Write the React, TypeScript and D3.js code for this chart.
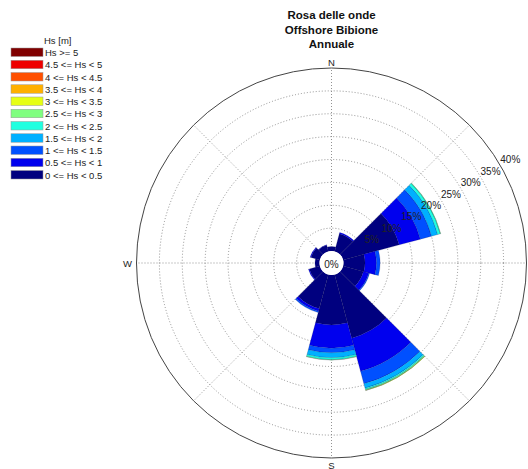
import React from "react";
import * as d3 from "d3";

// ---- data ----
const directions = [0, 30, 60, 90, 120, 150, 180, 210, 240, 270, 300, 330];
const classLabels = [
  "0 <= Hs < 0.5",
  "0.5 <= Hs < 1",
  "1 <= Hs < 1.5",
  "1.5 <= Hs < 2",
  "2 <= Hs < 2.5",
  "2.5 <= Hs < 3",
  "3 <= Hs < 3.5",
  "3.5 <= Hs < 4",
  "4 <= Hs < 4.5",
  "4.5 <= Hs < 5",
  "Hs >= 5",
];
const classColors = [
  "#00007f",
  "#0000ee",
  "#0050ff",
  "#00b0ff",
  "#20ffe0",
  "#80ff80",
  "#e6ff14",
  "#ffb000",
  "#ff5000",
  "#ee0000",
  "#800000",
];
// frequency (%) per direction for each Hs class
const hs0_05 = [1.0, 4.0, 12.7, 4.7, 4.6, 14.4, 10.9, 7.7, 2.4, 1.0, 2.0, 1.4];
const hs05_1 = [0, 0.3, 4.8, 2.5, 1.2, 7.5, 5.1, 0.6, 0.2, 0, 0.2, 0.1];
const hs1_15 = [0, 0, 2.5, 0.8, 0.2, 2.8, 1.0, 0.3, 0, 0, 0, 0];
const hs15_2 = [0, 0, 1.4, 0, 0, 1.0, 1.1, 0, 0, 0, 0, 0];
const hs2_25 = [0, 0, 0.6, 0, 0, 0.3, 0.4, 0, 0, 0, 0, 0];
const hs25_3 = [0, 0, 0.1, 0, 0, 0.2, 0.1, 0, 0, 0, 0, 0];
const hs3_35 = [0, 0, 0, 0, 0, 0.05, 0, 0, 0, 0, 0, 0];
const hs35_4 = [0, 0, 0, 0, 0, 0, 0, 0, 0, 0, 0, 0];
const hs4_45 = [0, 0, 0, 0, 0, 0, 0, 0, 0, 0, 0, 0];
const hs45_5 = [0, 0, 0, 0, 0, 0, 0, 0, 0, 0, 0, 0];
const hs5 = [0, 0, 0, 0, 0, 0, 0, 0, 0, 0, 0, 0];
const series = [hs0_05, hs05_1, hs1_15, hs15_2, hs2_25, hs25_3, hs3_35, hs35_4, hs4_45, hs45_5, hs5];
const ringTicks = [5, 10, 15, 20, 25, 30, 35, 40];
const titleLines = ["Rosa delle onde", "Offshore Bibione", "Annuale"];

const W = 528;
const H = 469;
const cx = 331.5;
const cy = 263;
const sectorWidth = 30;

export default function App() {
  const r = d3.scaleLinear().domain([0, 40]).range([12, 195]);
  const toRad = (deg: number) => (deg * Math.PI) / 180;
  const arc = d3.arc<any>();

  const segments: { path: string; color: string }[] = [];
  directions.forEach((dir, i) => {
    let cum = 0;
    series.forEach((s, k) => {
      const v = s[i];
      if (v <= 0) return;
      const p = arc({
        innerRadius: r(cum),
        outerRadius: r(cum + v),
        startAngle: toRad(dir - sectorWidth / 2),
        endAngle: toRad(dir + sectorWidth / 2),
      } as any) as string;
      segments.push({ path: p, color: classColors[k] });
      cum += v;
    });
  });

  const labelAngle = toRad(60);
  const font = "Liberation Sans, Arial, sans-serif";

  return (
    <svg
      width={W}
      height={H}
      style={{ position: "absolute", left: 0, top: 0, background: "#fff" }}
      fontFamily={font}
    >
      {/* title */}
      {titleLines.map((t, i) => (
        <text
          key={t}
          x={cx}
          y={15 + i * 14.5}
          textAnchor="middle"
          dominantBaseline="central"
          fontWeight="bold"
          fontSize={11.5}
          fill="#111"
        >
          {t}
        </text>
      ))}

      {/* legend */}
      <text x={44} y={40} fontSize={9.5} fill="#222" dominantBaseline="central">
        Hs [m]
      </text>
      {classLabels
        .map((lab, k) => ({ lab, k }))
        .reverse()
        .map(({ lab, k }, j) => (
          <g key={lab}>
            <rect
              x={11}
              y={48 + j * 12.25}
              width={32}
              height={8.5}
              fill={classColors[k]}
              stroke="#999"
              strokeWidth={0.5}
            />
            <text x={45} y={52.5 + j * 12.25} fontSize={9.5} fill="#222" dominantBaseline="central">
              {lab}
            </text>
          </g>
        ))}

      {/* grid */}
      <g transform={`translate(${cx},${cy})`}>
        {ringTicks.slice(0, -1).map((t) => (
          <circle key={t} r={r(t)} fill="none" stroke="#777" strokeWidth={0.8} strokeDasharray="1,2" />
        ))}
        {d3.range(0, 360, 45).map((a) => (
          <line
            key={a}
            x1={r(0) * Math.sin(toRad(a))}
            y1={-r(0) * Math.cos(toRad(a))}
            x2={r(40) * Math.sin(toRad(a))}
            y2={-r(40) * Math.cos(toRad(a))}
            stroke="#777"
            strokeWidth={0.8}
            strokeDasharray="1,2"
          />
        ))}
        <circle r={r(40)} fill="none" stroke="#444" strokeWidth={1} />

        {/* petals */}
        {segments.map((s, i) => (
          <path key={i} d={s.path} fill={s.color} stroke="#000040" strokeOpacity={0.35} strokeWidth={0.5} />
        ))}

        {/* hole */}
        <circle r={r(0)} fill="#fff" />

        {/* ring labels */}
        <text x={0} y={1} textAnchor="middle" dominantBaseline="central" fontSize={10} fill="#222">
          0%
        </text>
        {ringTicks.map((t) => (
          <text
            key={t}
            x={(r(t) + 11.5) * Math.sin(labelAngle)}
            y={-(r(t) + 11.5) * Math.cos(labelAngle)}
            textAnchor="middle"
            dominantBaseline="central"
            fontSize={10}
            fill="#222"
          >
            {t}%
          </text>
        ))}

        {/* cardinal labels */}
        <text x={0} y={-r(40) - 6} textAnchor="middle" dominantBaseline="central" fontSize={9.5} fill="#222">
          N
        </text>
        <text x={0} y={r(40) + 7} textAnchor="middle" dominantBaseline="central" fontSize={9.5} fill="#222">
          S
        </text>
        <text x={-r(40) - 9} y={0} textAnchor="middle" dominantBaseline="central" fontSize={9.5} fill="#222">
          W
        </text>
      </g>
    </svg>
  );
}
